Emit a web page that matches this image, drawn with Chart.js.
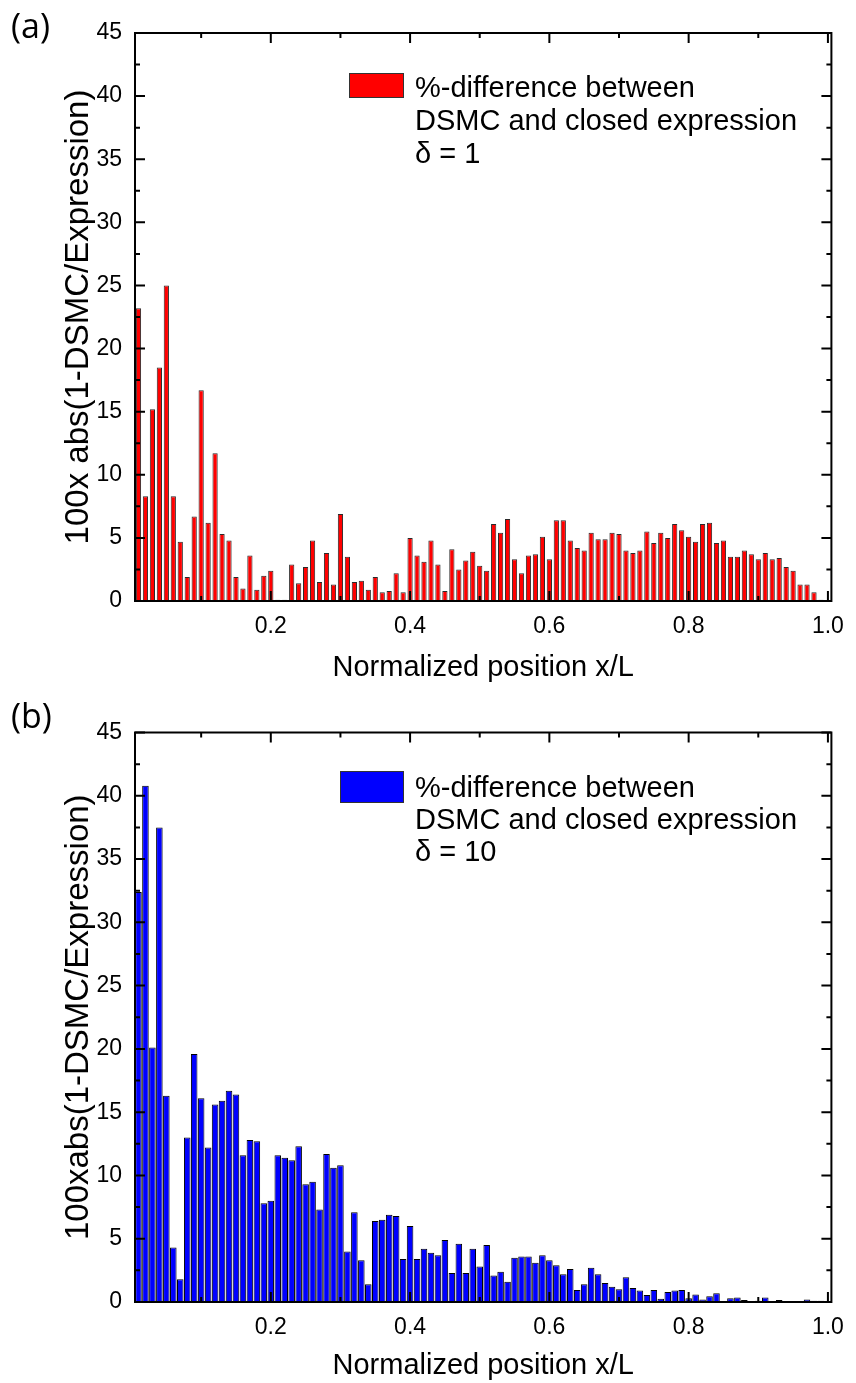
<!DOCTYPE html>
<html>
<head>
<meta charset="utf-8">
<script src="https://cdn.jsdelivr.net/npm/chart.js@4.4.1/dist/chart.umd.min.js"></script>
<style>
  html, body { margin: 0; padding: 0; background: #fff; }
  #wrap { position: relative; width: 856px; height: 1383px; }
  canvas { position: absolute; left: 0; }
  #graficoA { top: 0; }
  #graficoB { top: 690px; }
</style>
</head>
<body>
<div id="wrap">
  <canvas id="graficoA" width="856" height="690"></canvas>
  <canvas id="graficoB" width="856" height="693"></canvas>
</div>
<script>
// --- Dados ---
const posicoes = [
  0.01, 0.02, 0.03, 0.04, 0.05, 0.06, 0.07, 0.08, 0.09, 0.10,
  0.11, 0.12, 0.13, 0.14, 0.15, 0.16, 0.17, 0.18, 0.19, 0.20,
  0.21, 0.22, 0.23, 0.24, 0.25, 0.26, 0.27, 0.28, 0.29, 0.30,
  0.31, 0.32, 0.33, 0.34, 0.35, 0.36, 0.37, 0.38, 0.39, 0.40,
  0.41, 0.42, 0.43, 0.44, 0.45, 0.46, 0.47, 0.48, 0.49, 0.50,
  0.51, 0.52, 0.53, 0.54, 0.55, 0.56, 0.57, 0.58, 0.59, 0.60,
  0.61, 0.62, 0.63, 0.64, 0.65, 0.66, 0.67, 0.68, 0.69, 0.70,
  0.71, 0.72, 0.73, 0.74, 0.75, 0.76, 0.77, 0.78, 0.79, 0.80,
  0.81, 0.82, 0.83, 0.84, 0.85, 0.86, 0.87, 0.88, 0.89, 0.90,
  0.91, 0.92, 0.93, 0.94, 0.95, 0.96, 0.97, 0.98, 0.99
];

// (a) delta = 1
const difDelta1 = [
  23.2, 8.3, 15.2, 18.5, 25.0, 8.3, 4.7, 1.9, 6.7, 16.7,
  6.2, 11.7, 5.3, 4.8, 1.9, 1.0, 3.6, 0.9, 2.0, 2.4,
  0.1, 0.1, 2.9, 1.4, 2.7, 4.8, 1.5, 3.8, 1.3, 6.9,
  3.5, 1.5, 1.6, 0.9, 1.9, 0.7, 0.8, 2.2, 0.7, 5.0,
  3.6, 3.1, 4.8, 2.9, 0.8, 4.1, 2.5, 3.2, 3.9, 2.8,
  2.4, 6.1, 5.4, 6.5, 3.3, 2.2, 3.6, 3.7, 5.1, 3.3,
  6.4, 6.4, 4.8, 4.2, 4.0, 5.4, 4.9, 4.9, 5.4, 5.3,
  4.0, 3.8, 4.0, 5.5, 4.6, 5.4, 5.0, 6.1, 5.6, 5.1,
  4.7, 6.1, 6.2, 4.6, 4.8, 3.5, 3.5, 4.0, 3.7, 3.3,
  3.8, 3.3, 3.4, 2.7, 2.4, 1.3, 1.3, 0.7, 0.1
];

// (b) delta = 10
const difDelta10 = [
  32.4, 40.8, 20.1, 37.5, 16.3, 4.3, 1.8, 13.0, 19.6, 16.1,
  12.2, 15.6, 15.9, 16.7, 16.4, 11.6, 12.8, 12.7, 7.8, 8.0,
  11.6, 11.4, 11.2, 12.3, 9.3, 9.5, 7.3, 11.7, 10.6, 10.8,
  4.0, 7.1, 3.3, 1.4, 6.4, 6.5, 6.9, 6.8, 3.4, 6.0,
  3.4, 4.2, 3.9, 3.7, 4.9, 2.3, 4.6, 2.3, 4.2, 2.8,
  4.5, 2.1, 2.4, 1.6, 3.5, 3.6, 3.6, 3.1, 3.7, 3.3,
  2.9, 2.2, 2.6, 0.95, 1.4, 2.7, 2.2, 1.5, 1.2, 1.0,
  1.95, 1.1, 0.9, 0.55, 0.95, 0.25, 0.8, 0.9, 0.95, 0.3,
  0.6, 0.2, 0.45, 0.7, 0.05, 0.3, 0.35, 0.15, 0.05, 0.1,
  0.35, 0.0, 0.15, 0.05, 0.05, 0.05, 0.2, 0.1, 0.1
];

const ticksXMaiores = [0.2, 0.4, 0.6, 0.8, 1.0];
const ticksXMenores = [0.1, 0.3, 0.5, 0.7, 0.9];
const ticksYMaiores = [0, 5, 10, 15, 20, 25, 30, 35, 40, 45];
const ticksYMenores = [2.5, 7.5, 12.5, 17.5, 22.5, 27.5, 32.5, 37.5, 42.5];

const FONTE = "'Liberation Sans', Arial, sans-serif";
Chart.defaults.color = '#000';
Chart.defaults.font.family = FONTE;

// --- Moldura com marcas para dentro (estilo Origin) ---
const molduraPlugin = {
  id: 'moldura',
  afterDatasetsDraw(chart) {
    const { ctx, chartArea: a, scales: { x, y } } = chart;
    ctx.save();
    ctx.strokeStyle = '#000';
    ctx.lineWidth = 2;
    ctx.beginPath();
    const marcaX = (v, len) => {
      const px = x.getPixelForValue(v);
      ctx.moveTo(px, a.bottom); ctx.lineTo(px, a.bottom - len);
      ctx.moveTo(px, a.top); ctx.lineTo(px, a.top + len);
    };
    const marcaY = (v, len) => {
      const py = y.getPixelForValue(v);
      ctx.moveTo(a.left, py); ctx.lineTo(a.left + len, py);
      ctx.moveTo(a.right, py); ctx.lineTo(a.right - len, py);
    };
    ticksXMaiores.forEach(v => marcaX(v, 10));
    ticksXMenores.forEach(v => marcaX(v, 5));
    ticksYMaiores.forEach(v => marcaY(v, 10));
    ticksYMenores.forEach(v => marcaY(v, 5));
    ctx.stroke();
    ctx.strokeRect(a.left, a.top, a.right - a.left, a.bottom - a.top);
    ctx.restore();
  }
};

// --- Legenda em caixa e rótulo do painel ---
const legendaPlugin = {
  id: 'legendaCaixa',
  afterDraw(chart, args, o) {
    const ctx = chart.ctx;
    ctx.save();
    ctx.fillStyle = o.cor;
    ctx.strokeStyle = '#333';
    ctx.lineWidth = 1;
    ctx.fillRect(o.caixa[0], o.caixa[1], o.caixa[2], o.caixa[3]);
    ctx.strokeRect(o.caixa[0] + 0.5, o.caixa[1] + 0.5, o.caixa[2] - 1, o.caixa[3] - 1);
    ctx.fillStyle = '#000';
    ctx.font = `29px ${FONTE}`;
    ctx.textBaseline = 'alphabetic';
    o.linhas.forEach((t, i) => ctx.fillText(t, o.textoX, o.base + i * o.passo));
    ctx.font = `34px 'Open Sans', 'Noto Sans', sans-serif`;
    ctx.textBaseline = 'middle';
    ctx.fillText(o.rotulo, 11, 28);
    ctx.restore();
  }
};

function criarGrafico(id, valores, cor, tituloY, alturaEixoX, topo, padTituloX, legenda) {
  return new Chart(document.getElementById(id), {
    type: 'bar',
    data: {
      datasets: [{
        data: posicoes.map((p, i) => ({ x: p, y: valores[i] })),
        backgroundColor: cor,
        borderColor: legenda.borda,
        borderWidth: 1,
        borderSkipped: false,
        inflateAmount: 0,
        barPercentage: legenda.largura,
        categoryPercentage: 1
      }]
    },
    options: {
      responsive: false,
      animation: false,
      layout: { padding: { top: topo, right: 18, left: 0, bottom: 0 } },
      plugins: {
        legend: { display: false },
        tooltip: { enabled: false },
        legendaCaixa: legenda
      },
      scales: {
        x: {
          type: 'linear',
          min: 0.005,
          max: 1.005,
          offset: false,
          grid: { display: false, drawTicks: false, offset: false },
          border: { display: false },
          afterBuildTicks: s => { s.ticks = ticksXMaiores.map(v => ({ value: v })); },
          afterFit: s => { s.height = alturaEixoX; },
          ticks: { font: { size: 23 }, padding: 12, maxRotation: 0, autoSkip: false, callback: v => v.toFixed(1) },
          title: { display: true, text: 'Normalized position x/L', font: { size: 29, lineHeight: 1 }, padding: { top: 0, bottom: padTituloX } }
        },
        y: {
          min: 0,
          max: 45,
          grid: { display: false, drawTicks: false },
          border: { display: false },
          afterBuildTicks: s => { s.ticks = ticksYMaiores.map(v => ({ value: v })); },
          afterFit: s => { s.width = 135; },
          ticks: { font: { size: 23 }, padding: 13 },
          title: { display: true, text: tituloY, font: { size: 33, lineHeight: 1 }, padding: { top: 62, bottom: 0 } }
        }
      }
    },
    plugins: [molduraPlugin, legendaPlugin]
  });
}

criarGrafico('graficoA', difDelta1, '#ff0000', '100x abs(1-DSMC/Expression)', 89, 33, 8, {
  cor: '#ff0000', borda: '#2a2a2a', largura: 0.75,
  caixa: [349, 73, 55, 25],
  linhas: ['%-difference between', 'DSMC and closed expression', '\u03b4 = 1'],
  textoX: 415, base: 97, passo: 33, rotulo: '(a)'
});

criarGrafico('graficoB', difDelta10, '#0000ff', '100xabs(1-DSMC/Expression)', 81, 42.5, 3, {
  cor: '#0000ff', borda: '#000', largura: 0.94,
  caixa: [340, 81, 64, 32],
  linhas: ['%-difference between', 'DSMC and closed expression', '\u03b4 = 10'],
  textoX: 415, base: 107, passo: 32, rotulo: '(b)'
});
</script>
</body>
</html>
